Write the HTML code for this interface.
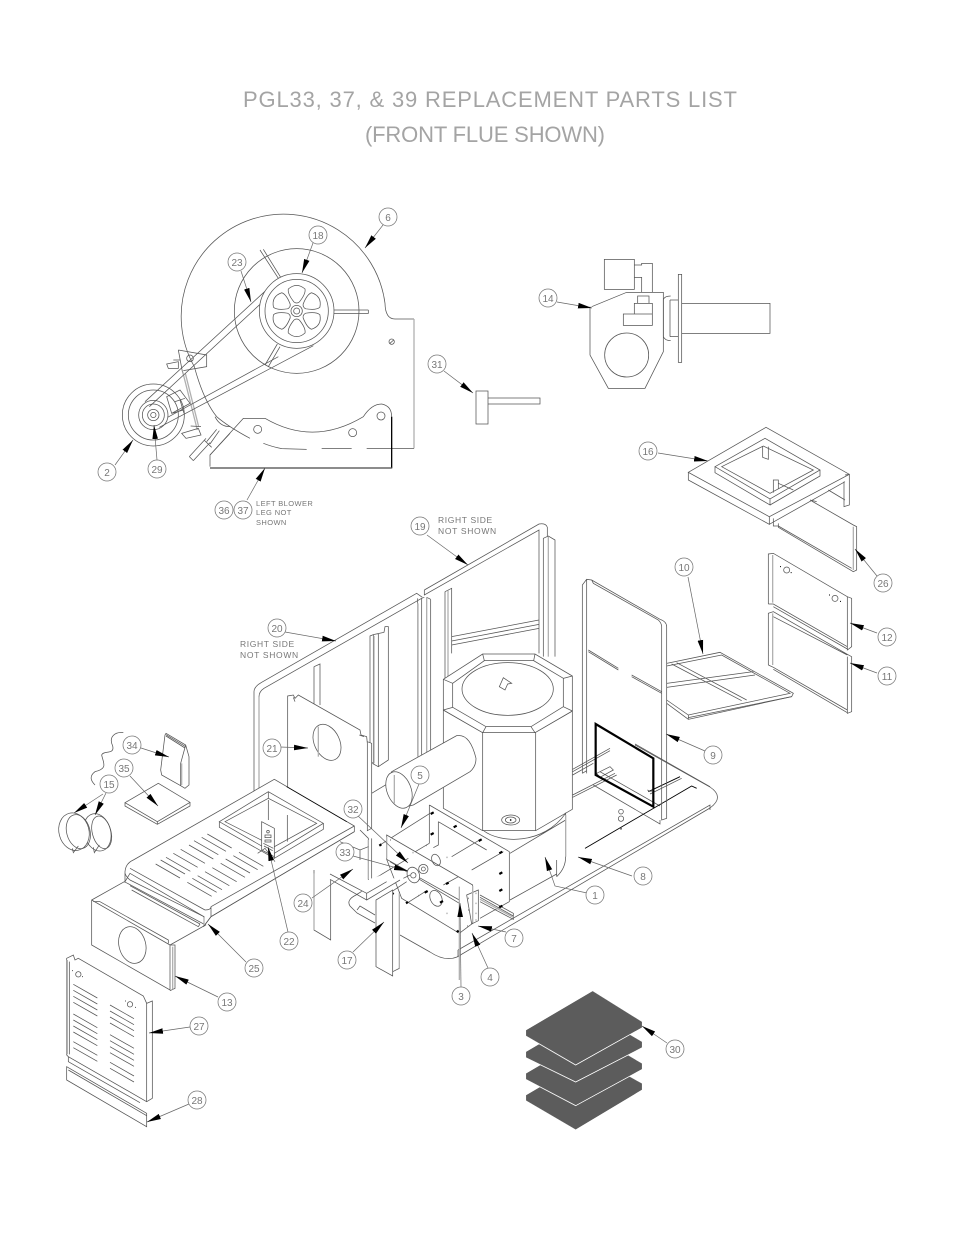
<!DOCTYPE html>
<html><head><meta charset="utf-8"><style>
html,body{margin:0;padding:0;background:#fff}
svg{display:block}
svg *{vector-effect:non-scaling-stroke}
.a{fill:none;stroke:#555;stroke-width:.75}
.w{fill:#fff;stroke:#555;stroke-width:.75}
.g{fill:none;stroke:#b0b0b0;stroke-width:1.3}
.k{fill:none;stroke:#000;stroke-width:1}
.d{fill:none;stroke:#000;stroke-width:2}
.l path{fill:none;stroke:#666;stroke-width:.7;marker-end:url(#ar)}
.b circle{fill:#fff;stroke:#777;stroke-width:.75}
text{font-family:"Liberation Sans",sans-serif;fill:#777}
.b text{font-size:10px;text-anchor:middle}
.n text{font-size:8.5px;letter-spacing:.8px}
</style></head><body>
<svg width="954" height="1235" viewBox="0 0 954 1235" xmlns="http://www.w3.org/2000/svg">
<defs>
<marker id="ar" markerUnits="userSpaceOnUse" markerWidth="15" markerHeight="8" refX="14" refY="4" orient="auto"><path d="M0,1.2L14,4L0,6.8Z" fill="#000" stroke="none" style="marker-end:none"/></marker>
<pattern id="p" width="3" height="3" patternUnits="userSpaceOnUse"><rect width="3" height="3" fill="#4c4c4c"/><rect width="1" height="1" fill="#a8a8a8"/><rect x="1.5" y="1.5" width="1" height="1" fill="#808080"/></pattern>
</defs>
<rect width="954" height="1235" fill="#fff"/>
<text x="243" y="107" font-size="22" textLength="494" lengthAdjust="spacing" style="fill:#a4a4a4">PGL33, 37, &amp; 39 REPLACEMENT PARTS LIST</text>
<text x="365" y="142" font-size="22" textLength="240" lengthAdjust="spacing" style="fill:#a4a4a4">(FRONT FLUE SHOWN)</text>

<!-- BLOWER -->
<g transform="translate(100,200) scale(.33333)">
<path class="a" d="M450,715Q385,680 350,650Q310,600 283,500A307,307 0 1 1 855,310Q856,357 885,357L942,357"/>
<path class="g" d="M942,357L942,745"/>
<path class="a" d="M942,745L800,745M755,745L665,745M620,748L545,746Q515,740 490,730"/>
<circle class="a" cx="590" cy="333" r="187"/>
<path class="a" d="M480,150L535,235M490,148L542,232M700,330L805,330M700,340L805,340L805,330M495,495L532,432M505,500L540,440"/>
<path class="a" d="M235,450L320,465L320,500L250,512M235,450L248,520"/>
<path class="g" d="M248,515L292,690M256,520L296,680"/>
<circle class="a" cx="270" cy="475" r="10"/>
<path class="a" d="M200,492L235,485L235,505L205,505ZM220,480L240,480"/>
<path class="a" d="M245,700L295,685L303,705L258,715ZM272,678L303,680"/>
<path class="a" d="M320,725L350,688M330,732L358,692M268,770L318,715M280,782L330,728M268,770L280,782M312,720L335,742"/>
<path class="a" d="M345,650Q360,680 390,680M330,765L390,700"/>
<circle class="w" cx="160" cy="645" r="93"/>
<circle class="a" cx="160" cy="645" r="75"/>
<path class="a" d="M200,590L240,570L270,610L215,640ZM225,605L255,595M240,600L252,640M215,640L250,630"/>
<circle class="w" cx="160" cy="645" r="44"/>
<circle class="a" cx="160" cy="645" r="33"/>
<circle class="a" cx="160" cy="645" r="17"/>
<circle class="a" cx="160" cy="645" r="8"/>
<path class="a" d="M135,605L510,260M148,620L518,278M178,682L640,437M203,652L535,470"/>
<circle class="w" cx="590" cy="333" r="112"/>
<circle class="a" cx="590" cy="333" r="95"/>
<circle class="a" cx="590" cy="333" r="17"/>
<circle class="a" cx="590" cy="333" r="9"/>
<g transform="translate(590,333)">
<path class="a" d="M-8,-27Q-28,-52 -25,-66Q0,-88 25,-66Q28,-52 8,-27Q0,-21 -8,-27Z"/>
<path class="a" transform="rotate(60)" d="M-8,-27Q-28,-52 -25,-66Q0,-88 25,-66Q28,-52 8,-27Q0,-21 -8,-27Z"/>
<path class="a" transform="rotate(120)" d="M-8,-27Q-28,-52 -25,-66Q0,-88 25,-66Q28,-52 8,-27Q0,-21 -8,-27Z"/>
<path class="a" transform="rotate(180)" d="M-8,-27Q-28,-52 -25,-66Q0,-88 25,-66Q28,-52 8,-27Q0,-21 -8,-27Z"/>
<path class="a" transform="rotate(240)" d="M-8,-27Q-28,-52 -25,-66Q0,-88 25,-66Q28,-52 8,-27Q0,-21 -8,-27Z"/>
<path class="a" transform="rotate(300)" d="M-8,-27Q-28,-52 -25,-66Q0,-88 25,-66Q28,-52 8,-27Q0,-21 -8,-27Z"/>
</g>
<circle class="a" cx="875" cy="425" r="8"/><path class="a" d="M870,430L881,420"/>
<path class="a" d="M330,800L330,765L430,655L495,655Q640,740 790,650Q815,612 845,612Q875,618 875,650"/>
<path class="k" d="M875,650L875,805" style="stroke-width:1.3"/>
<path class="d" d="M330,804L875,804" style="stroke:#666;stroke-width:1.4"/>
<circle class="a" cx="473" cy="688" r="12"/><circle class="a" cx="758" cy="698" r="12"/><circle class="a" cx="843" cy="648" r="12"/>
</g>

<!-- 31 -->
<path class="a" d="M476,391L488,391L488,424L476,424ZM488,398L540,398L540,404L488,404"/>

<!-- MOTOR -->
<g transform="translate(530,240) scale(.33333)">
<path class="a" d="M223,58H313V148H223ZM313,75H335V70H367V157M313,112H335V157"/>
<path class="a" d="M185,200L290,157H400V335L345,445H235L180,345V200"/>
<circle class="a" cx="290" cy="345" r="66"/>
<path class="a" d="M323,168H357V190H323ZM313,190H367V222H313ZM280,222H367V256H280Z"/>
<path class="a" d="M445,103H455V367H445ZM455,190H720V280H455M420,180H445M420,290H445M420,180V290M400,178Q405,168 422,168M400,290Q405,302 422,302M400,178V290"/>
</g>

<!-- PAN -->
<path class="a" d="M367,888L356,895Q346,900 350,906L357,913L375,923M400,935L430,952Q445,962 457,957L710,808Q725,797 710,787L635,745"/>
<path class="a" d="M458,950V957M458,950L710,805V810M357,910L360,906L375,915"/>
<g transform="translate(560,720) scale(.33333)">
<path class="a" d="M38,148L150,85M38,155L150,92M38,165L100,130M38,225L165,160M38,232L170,165M100,195L300,312V300M120,155L300,258M225,72L450,200"/>
<path class="k" d="M75,385L395,198L410,205M265,215L360,170" style="stroke-width:.9"/>
<path class="a" d="M270,222L365,175"/>
<path class="a" d="M110,160L150,140L160,150L120,172ZM262,210L275,215"/>
<circle class="a" cx="183" cy="275" r="7"/><circle class="a" cx="183" cy="296" r="8"/><circle class="a" cx="183" cy="326" r="2"/>
<!-- Panel 9 lower edges handled below -->
</g>

<!-- PANEL 9 -->
<g transform="translate(560,420) scale(.33333)">
<path class="a" d="M67,1060V495L80,478L95,480L300,598Q320,605 320,620V1195L305,1200V620Q305,610 295,600L100,490L95,480M80,478V1060M67,1060L80,1052"/>
<path class="a" d="M85,690L175,745M85,695L175,750M215,765L305,815M215,770L305,820"/>
<path class="d" d="M107,912L280,1015V1160L107,1065Z" style="stroke-width:2.2"/>
<!-- PANEL 10 -->
<path class="a" d="M320,730L480,697L700,820L695,830L385,898L320,850"/>
<path class="a" d="M320,738L485,705L690,820L385,885L320,840M335,732L545,842M350,728L560,840M320,790L580,755M320,802L585,765M385,885V898M695,830L385,893"/>
<!-- 16 -->
<path class="a" d="M385,157L618,22L868,163L628,290ZM385,157V180L628,313V290M628,313L855,185M855,165L868,163V255L852,260V185"/>
<path class="a" d="M465,140L615,55L780,150L630,237ZM465,140V158L630,255V237M630,255L780,168V150M485,140L610,78L760,150L630,220ZM608,80V112L625,118V80M640,218V180L655,180V205M655,190L700,210"/>
<path class="a" d="M640,295V318H655M640,313V305M805,210L855,240M770,245L750,240"/>
<!-- 26 -->
<path class="a" d="M655,310V322L880,455L890,450V320L880,315L755,243"/>
<path class="g" d="M880,320V450"/>
<path class="a" d="M655,318L875,445"/>
<!-- 12 -->
<path class="a" d="M625,552V402L640,400L862,530L875,535V680L862,690V530M625,552L640,552L862,680M640,560L862,687"/>
<path class="g" d="M638,405V548"/>
<circle class="a" cx="680" cy="450" r="9"/><circle class="a" cx="825" cy="535" r="9"/>
<path class="k" d="M660,440h3M692,458h3M807,525h3M840,544h3"/>
<!-- 11 -->
<path class="a" d="M625,735V580L640,575L862,703L875,710V875L862,880V710M625,735L640,742L862,870M640,748L862,878M640,590L862,705"/>
<path class="g" d="M638,580V735"/>
</g>

<!-- PANEL 19 / 20 -->
<g transform="translate(240,510) scale(.33333)">
<path class="a" d="M553,240V255L897,60V430M553,240L897,42Q918,38 922,52V80"/>
<path class="a" d="M910,440V85L925,78L945,90V440"/>
<path class="g" d="M925,80V440"/>
<path class="a" d="M635,380L897,330M635,393L897,343M635,405L897,355"/>
<path class="a" d="M615,245L635,235V430M615,245V510"/>
<path class="g" d="M624,242V500"/>
<path class="a" d="M42,1000V545Q42,530 65,517L530,250L547,262M57,1000V560Q57,545 72,535L545,265"/>
<path class="g" d="M57,560V1000"/>
<path class="a" d="M533,265V740M545,265V745M560,262V745M572,268V740M545,265L553,262M560,262L572,268"/>
<path class="g" d="M560,262V740M534,280V740"/>
<path class="a" d="M222,470L240,462V585M222,470V590"/>
<path class="a" d="M390,378L400,374L432,367L435,350L445,350V750L415,770L400,762L390,750ZM400,374V762M415,370V770"/>
<path class="g" d="M402,378V760"/>
<path class="w" d="M143,1000V558L160,555L165,565L175,555L360,660L363,675L380,680L382,700V962L395,955V700L382,695"/>
<path class="a" d="M395,850L610,720"/>
<ellipse class="a" cx="261" cy="697" rx="38" ry="57" transform="rotate(-25 261 697)"/>
<path class="g" d="M235,650L235,740"/>
<path class="a" d="M160,562L165,575M358,675L372,680"/>
<!-- BURNER -->
<polygon class="w" points="610,600 728,668 885,668 997,603 997,898 887,962 728,962 610,895"/>
<path class="a" d="M728,668V962M887,668V962"/>
<ellipse class="a" cx="812" cy="930" rx="27" ry="15"/><ellipse class="a" cx="812" cy="930" rx="16" ry="9"/><circle class="k" cx="812" cy="930" r="1"/>
<polygon class="w" points="610,508 728,432 885,432 997,498 997,603 885,668 728,668 610,600"/>
<polygon class="a" points="638,520 733,452 881,452 970,505 970,590 873,650 738,650 638,592"/>
<path class="a" d="M610,508L638,520M728,432L733,452M885,432L881,452M997,498L970,505M997,603L970,590M885,668L873,650M728,668L738,650M610,600L638,592"/>
<ellipse class="a" cx="803" cy="537" rx="137" ry="79"/>
<polygon class="a" points="790,503 815,520 803,522 795,540 778,530"/>
</g>

<!-- BASE CYLINDER + PIPE -->
<g transform="translate(300,720) scale(.33333)">
<path class="w" d="M548,330C600,372 730,375 797,280V410Q797,445 770,470L628,548V395Z" style="stroke:none"/>
<path class="a" d="M548,330C600,372 730,375 797,280V410Q797,445 770,470M770,420V470M630,400L797,300M630,540L770,462"/>
<path class="g" d="M797,285V410"/>
<path class="w" d="M275,155L470,47Q510,40 528,115Q528,140 510,155L340,255L310,262L262,180Z"/>
<ellipse class="w" cx="297" cy="210" rx="36" ry="57" transform="rotate(-22 297 210)"/>
<path class="g" d="M283,165L283,250"/>
<path class="a" d="M42,450V630L92,660V480"/>
<path class="g" d="M42,460V630"/>
</g>

<!-- FLUE BOX, SHELF, LEG -->
<g transform="translate(340,800) scale(.33333)">
<polygon points="268,15 508,155 508,305 398,370 358,340 140,178 140,105 268,30" fill="#fff" stroke="none"/>
<path class="a" d="M268,15L508,155V305L420,355M268,15V130M295,65V135L280,143M295,65L440,150M335,170L415,122M395,210L490,155M120,135L270,40M268,130L150,200"/>
<path class="a" d="M420,285L520,340V358L420,305M420,292L520,348"/>
<path class="g" d="M420,298L520,352"/>
<polygon class="w" points="140,105 398,255 398,370 358,400 185,295 140,178"/>
<path class="a" d="M140,178L358,300M150,185L358,310M200,310L260,272M310,255L355,230"/>
<path class="a" d="M380,285L415,270V362L395,372Z"/>
<path class="g" d="M358,260V540M140,110V175M398,258V368"/>
<ellipse class="a" cx="288" cy="295" rx="17" ry="25" transform="rotate(-25 288 295)"/>
<ellipse class="a" cx="288" cy="180" rx="12" ry="18" transform="rotate(-25 288 180)"/>
<ellipse class="w" cx="220" cy="225" rx="18" ry="24" transform="rotate(-20 220 225)"/>
<circle class="a" cx="220" cy="226" r="8"/>
<circle class="w" cx="250" cy="207" r="14"/><circle class="a" cx="250" cy="207" r="6"/>
<path class="a" d="M190,235L210,225M155,275L200,245M105,235L205,175"/>
<g fill="none" stroke="#000" stroke-width="2.2">
<path d="M272,42l9,-5M272,104l9,-5M341,82l9,-5M416,123l9,-5M478,160l9,-5M478,222l9,-5M478,273l9,-5M478,322l9,-5M118,137l6,-4M318,252l8,-4M254,278l9,-5M198,310l6,-4M300,308l9,-5M155,283l6,-4M350,396l6,-4"/>
</g>
<g fill="none" stroke="#666" stroke-width="1.5"><path d="M150,120h2M218,158h2M258,136h2M320,172h2M235,287h2M320,340h2M384,295h2M384,330h2M407,280h2M407,310h2M407,340h2M407,360h2M382,378h2"/></g>
<!-- shelf -->
<path class="w" d="M-30,235L-30,222L24,105L85,130V240L125,225L180,240L80,300V280Z" style="stroke:none"/>
<path class="a" d="M-30,222L80,280V300L-30,238M80,280L140,245M80,300L180,240M60,90L85,115V240M95,115V235"/>
<path class="g" d="M85,120V238"/>
<path class="a" d="M0,125L60,150L85,140M60,150V180"/>
<!-- leg -->
<polygon class="w" points="108,300 108,500 158,528 158,270"/>
<path class="a" d="M158,515L178,505V275"/>
<path class="g" d="M178,280V505"/>
</g>

<!-- LEFT ASSEMBLY -->
<g transform="translate(40,720) scale(.33333)">
<path class="a" d="M250,38C225,35 205,50 218,78C225,105 190,90 185,105C190,130 205,145 165,155C145,170 155,185 165,195"/>
<path class="w" d="M378,40L437,75L447,110V195L435,205L422,197L365,165L362,150L375,45ZM437,75L422,130V197"/>
<path class="g" d="M425,130V195"/>
<path class="a" d="M378,44L437,80M378,48L435,84"/>
<path class="a" d="M255,248L355,190L450,247L352,305ZM255,248V258L352,313L450,258V247M352,305V313"/>
<ellipse class="w" cx="172" cy="337" rx="40" ry="57" transform="rotate(-15 172 337)"/>
<ellipse class="a" cx="185" cy="337" rx="28" ry="50" transform="rotate(-15 185 337)"/>
<ellipse class="w" cx="102" cy="335" rx="45" ry="57" transform="rotate(-15 102 335)"/>
<ellipse class="a" cx="115" cy="335" rx="35" ry="52" transform="rotate(-15 115 335)"/>
<path class="a" d="M97,385L100,398L115,378M160,382L163,398L178,375"/>
<!-- 13 -->
<polygon class="w" points="155,540 253,485 497,615 390,675 390,810 155,675"/>
<path class="a" d="M155,540L390,675M180,545L385,660V670M160,545L180,545"/>
<path class="a" d="M390,675H405V805L390,812"/>
<path class="g" d="M398,680V808"/>
<ellipse class="a" cx="277" cy="675" rx="40" ry="56" transform="rotate(-15 277 675)"/>
<!-- tray -->
<path class="w" d="M255,485V455Q257,430 280,420L703,178L943,318V335L513,590L492,618V590L270,460Z"/>
<path class="a" d="M270,445L495,570M255,460Q258,470 270,480L492,590M513,560L943,318M513,560V590L943,335M495,570Q513,570 513,560M492,590V618L513,590M270,497L480,612M275,510L475,620L480,612"/>
<path class="g" d="M492,592V615"/>
<path class="k" d="M740,200L920,305" style="stroke-width:.7"/>
<path class="w" d="M538,305L685,215L850,310L703,400Z"/>
<path class="a" d="M538,305V322L703,415V400M703,415L850,328V310M685,215V235M555,305L685,235L830,310L703,380Z"/>
<path class="a" d="M685,240V300M742,285V365"/>
<path class="w" d="M665,305L703,325V410L665,390Z"/>
<path class="a" d="M675,345h18v8h-18zM675,360h18v6h-18z"/>
<circle class="a" cx="684" cy="335" r="4"/>
<path class="a" d="M653,400L675,385L705,425M670,370L700,385M672,378L698,392"/>
<path class="a" d="M347,432l73,42M362,420l73,42M378,412l73,42M400,400l73,42M422,388l73,42M447,375l73,42M462,362l73,42M485,352l73,42M502,342l73,42M442,487l73,42M457,475l73,42M473,467l73,42M495,455l73,42M517,443l73,42M542,430l73,42M557,417l73,42M580,407l73,42M597,397l73,42"/>
<!-- 27 -->
<path class="w" d="M80,715L100,705L105,720L115,715L310,828L320,850L337,843V1135L320,1145L85,1010L80,1005Z"/>
<path class="a" d="M320,850V1145M88,725V1003"/>
<path class="g" d="M82,720V1003"/>
<path class="a" d="M85,1010V1025L300,1148"/>
<circle class="a" cx="115" cy="763" r="8"/><circle class="a" cx="270" cy="853" r="8"/>
<path class="k" d="M97,752h2M127,770h2M255,843h2M285,862h2"/>
<path class="a" d="M100,793l72,41M100,811l72,41M100,829l72,41M100,847l72,41M100,882l72,41M100,900l72,41M100,918l72,41M100,936l72,41M100,965l72,41M100,983l72,41M210,855l72,41M210,873l72,41M210,891l72,41M210,909l72,41M210,944l72,41M210,962l72,41M210,980l72,41M210,998l72,41M210,1027l72,41M210,1045l72,41"/>
<!-- 28 -->
<path class="w" d="M80,1040L320,1180V1220L80,1080Z"/>
<path class="a" d="M85,1050L320,1187"/>
</g>

<!-- 30 filters -->
<g transform="translate(510,980) scale(.33333)">
<polygon fill="url(#p)" stroke="#fff" stroke-width=".8" points="47,345 248,227 397,310 397,330 197,450 47,362"/>
<polygon fill="url(#p)" stroke="#fff" stroke-width=".8" points="47,280 248,162 397,250 397,268 197,377 47,298"/>
<polygon fill="url(#p)" stroke="#fff" stroke-width=".8" points="47,215 248,97 397,185 397,203 197,306 47,233"/>
<polygon fill="url(#p)" stroke="#fff" stroke-width=".8" points="47,150 248,32 397,125 397,143 197,255 47,168"/>
</g>

<!-- LEADERS -->
<g class="l">
<path d="M383,225L365,248"/><path d="M313,243L302,273"/><path d="M241,271L251,302"/><path d="M115,465L133,440"/>
<path d="M157,460L154,425"/><path d="M247,500L265,468"/><path d="M444,371L473,393"/><path d="M557,302L592,308"/>
<path d="M658,453L708,461"/><path d="M688,577L703,654"/><path d="M877,576L855,549"/><path d="M877,633L850,623"/>
<path d="M877,673L850,663"/><path d="M705,751L666,734"/><path d="M427,535L468,565"/><path d="M285,632L336,641"/>
<path d="M280,747L308,748"/><path d="M419,784L401,828"/><path d="M357,815L408,863"/><path d="M353,856L408,871"/>
<path d="M312,898L353,869"/><path d="M353,952L384,922"/><path d="M461,987L460,903"/><path d="M488,968L472,933"/>
<path d="M506,932L478,926"/><path d="M587,893L555,886L545,857"/><path d="M632,876L578,857"/>
<path d="M141,748L169,757"/><path d="M130,776L158,806"/><path d="M103,794L74,813"/><path d="M106,793L95,815"/>
<path d="M288,932L268,847"/><path d="M246,962L208,924"/><path d="M218,997L175,976"/><path d="M190,1027L149,1033"/>
<path d="M189,1104L147,1122"/><path d="M667,1043L642,1026"/>
</g>

<!-- BALLOONS -->
<g class="b">
<circle cx="388" cy="217" r="9"/><text x="388" y="221">6</text>
<circle cx="318" cy="235" r="9"/><text x="318" y="239">18</text>
<circle cx="237" cy="262" r="9"/><text x="237" y="266">23</text>
<circle cx="107" cy="472" r="9"/><text x="107" y="476">2</text>
<circle cx="157" cy="469" r="9"/><text x="157" y="473">29</text>
<circle cx="224" cy="510" r="9"/><text x="224" y="514">36</text>
<circle cx="243" cy="510" r="9"/><text x="243" y="514">37</text>
<circle cx="437" cy="364" r="9"/><text x="437" y="368">31</text>
<circle cx="548" cy="298" r="9"/><text x="548" y="302">14</text>
<circle cx="648" cy="451" r="9"/><text x="648" y="455">16</text>
<circle cx="883" cy="583" r="9"/><text x="883" y="587">26</text>
<circle cx="684" cy="567" r="9"/><text x="684" y="571">10</text>
<circle cx="887" cy="637" r="9"/><text x="887" y="641">12</text>
<circle cx="887" cy="676" r="9"/><text x="887" y="680">11</text>
<circle cx="713" cy="755" r="9"/><text x="713" y="759">9</text>
<circle cx="420" cy="526" r="9"/><text x="420" y="530">19</text>
<circle cx="277" cy="628" r="9"/><text x="277" y="632">20</text>
<circle cx="272" cy="748" r="9"/><text x="272" y="752">21</text>
<circle cx="420" cy="775" r="9"/><text x="420" y="779">5</text>
<circle cx="353" cy="809" r="9"/><text x="353" y="813">32</text>
<circle cx="345" cy="852" r="9"/><text x="345" y="856">33</text>
<circle cx="303" cy="903" r="9"/><text x="303" y="907">24</text>
<circle cx="347" cy="960" r="9"/><text x="347" y="964">17</text>
<circle cx="461" cy="996" r="9"/><text x="461" y="1000">3</text>
<circle cx="490" cy="977" r="9"/><text x="490" y="981">4</text>
<circle cx="514" cy="938" r="9"/><text x="514" y="942">7</text>
<circle cx="595" cy="895" r="9"/><text x="595" y="899">1</text>
<circle cx="643" cy="876" r="9"/><text x="643" y="880">8</text>
<circle cx="132" cy="745" r="9"/><text x="132" y="749">34</text>
<circle cx="124" cy="768" r="9"/><text x="124" y="772">35</text>
<circle cx="109" cy="784" r="9"/><text x="109" y="788">15</text>
<circle cx="289" cy="941" r="9"/><text x="289" y="945">22</text>
<circle cx="254" cy="968" r="9"/><text x="254" y="972">25</text>
<circle cx="227" cy="1002" r="9"/><text x="227" y="1006">13</text>
<circle cx="199" cy="1026" r="9"/><text x="199" y="1030">27</text>
<circle cx="197" cy="1100" r="9"/><text x="197" y="1104">28</text>
<circle cx="675" cy="1049" r="9"/><text x="675" y="1053">30</text>
</g>
<g class="n">
<text x="256" y="506" style="font-size:7.5px;letter-spacing:.4px">LEFT BLOWER</text>
<text x="256" y="515" style="font-size:7.5px;letter-spacing:.4px">LEG NOT</text>
<text x="256" y="525" style="font-size:7.5px;letter-spacing:.4px">SHOWN</text>
<text x="438" y="523" textLength="55" lengthAdjust="spacing">RIGHT SIDE</text>
<text x="438" y="534" textLength="59" lengthAdjust="spacing">NOT SHOWN</text>
<text x="240" y="647" textLength="55" lengthAdjust="spacing">RIGHT SIDE</text>
<text x="240" y="658" textLength="59" lengthAdjust="spacing">NOT SHOWN</text>
</g>
</svg>
</body></html>
